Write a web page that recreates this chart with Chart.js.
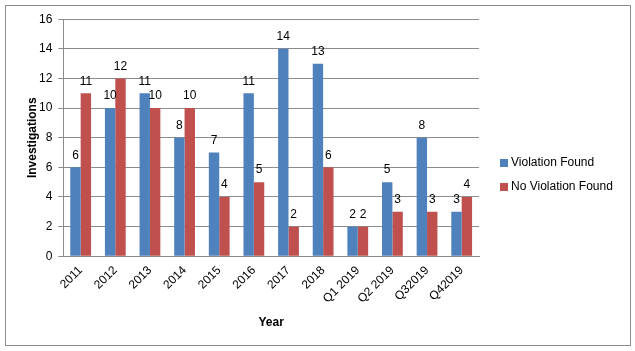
<!DOCTYPE html>
<html>
<head>
<meta charset="utf-8">
<script src="https://cdn.jsdelivr.net/npm/chart.js@4.4.0/dist/chart.umd.min.js"></script>
<style>
  html, body { margin: 0; padding: 0; background: #fff; }
  #box { position: absolute; left: 5px; top: 5px; width: 624px; height: 339px; border: 1px solid #8c8c8c; }
</style>
</head>
<body>
<div id="box"><canvas id="chart" width="624" height="339"></canvas></div>
<script>
const categories = ['2011', '2012', '2013', '2014', '2015', '2016', '2017', '2018', 'Q1 2019', 'Q2 2019', 'Q32019', 'Q42019'];
const violationFound = [6, 10, 11, 8, 7, 11, 14, 13, 2, 5, 8, 3];
const noViolationFound = [11, 12, 10, 10, 4, 5, 2, 6, 2, 3, 3, 4];
const yTicks = [0, 2, 4, 6, 8, 10, 12, 14, 16];

const FONT = 'Liberation Sans, Arial, sans-serif';

// values above the bars, axis titles and the legend, drawn by hand
const extras = {
    id: 'extras',
    afterDatasetsDraw(chart) {
        const ctx = chart.ctx;
        const area = chart.chartArea;
        ctx.save();
        ctx.fillStyle = '#000';
        ctx.font = '12px ' + FONT;
        ctx.textAlign = 'center';
        ctx.textBaseline = 'bottom';
        chart.data.datasets.forEach((ds, i) => {
            chart.getDatasetMeta(i).data.forEach((bar, j) => {
                ctx.fillText(ds.data[j], bar.x, bar.y - 6);
            });
        });

        ctx.font = 'bold 12px ' + FONT;
        ctx.textBaseline = 'middle';
        ctx.fillText('Year', (area.left + area.right) / 2, 317);
        ctx.save();
        ctx.translate(27, (area.top + area.bottom) / 2);
        ctx.rotate(-Math.PI / 2);
        ctx.fillText('Investigations', 0, 0);
        ctx.restore();

        ctx.font = '12px ' + FONT;
        ctx.textAlign = 'left';
        chart.data.datasets.forEach((ds, i) => {
            const y = 157 + i * 24;
            ctx.fillStyle = ds.backgroundColor;
            ctx.fillRect(494, y - 4, 8, 8);
            ctx.fillStyle = '#000';
            ctx.fillText(ds.label, 505, y);
        });
        ctx.restore();
    }
};

new Chart(document.getElementById('chart'), {
    type: 'bar',
    data: {
        labels: categories,
        datasets: [
            {
                label: 'Violation Found',
                data: violationFound,
                backgroundColor: '#4f81bd'
            },
            {
                label: 'No Violation Found',
                data: noViolationFound,
                backgroundColor: '#c0504d'
            }
        ]
    },
    options: {
        responsive: false,
        animation: false,
        layout: { padding: { top: 8, right: 151, left: 27, bottom: 37 } },
        datasets: {
            bar: { categoryPercentage: 0.6, barPercentage: 1.0 }
        },
        scales: {
            x: {
                grid: { display: false, tickLength: 5, offset: true },
                border: { color: '#8c8c8c' },
                ticks: {
                    color: '#000',
                    font: { family: FONT, size: 12 },
                    minRotation: 45,
                    maxRotation: 45,
                    autoSkip: false,
                    padding: 2
                }
            },
            y: {
                min: 0,
                max: 16,
                afterBuildTicks: axis => { axis.ticks = yTicks.map(v => ({ value: v })); },
                grid: { color: '#8c8c8c', tickLength: 5 },
                border: { color: '#8c8c8c' },
                ticks: {
                    color: '#000',
                    font: { family: FONT, size: 12 },
                    padding: 6
                }
            }
        },
        plugins: {
            legend: { display: false },
            tooltip: { enabled: false }
        }
    },
    plugins: [extras]
});
</script>
</body>
</html>
